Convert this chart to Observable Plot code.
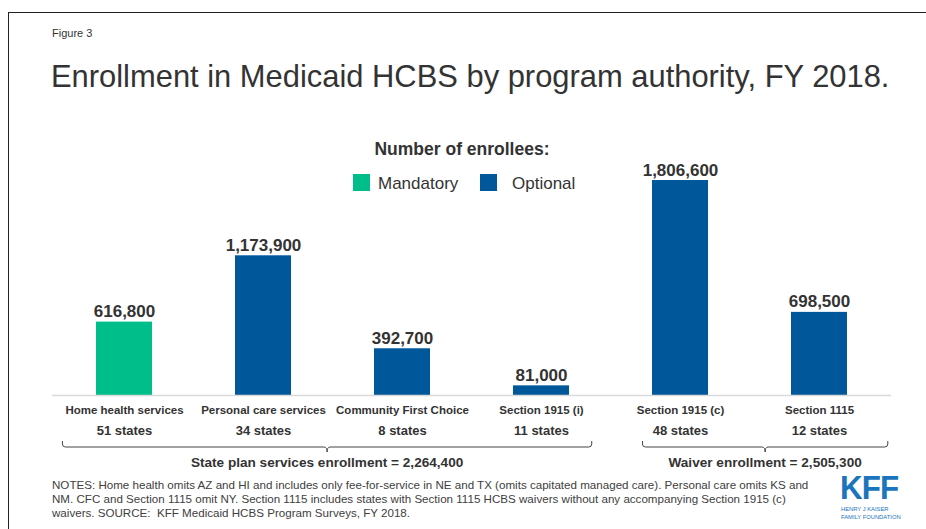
<!DOCTYPE html>
<html>
<head>
<meta charset="utf-8">
<script src="https://cdn.jsdelivr.net/npm/d3@7"></script>
<script src="https://cdn.jsdelivr.net/npm/@observablehq/plot@0.6"></script>
<style>
  html, body { margin: 0; padding: 0; background: #fff; }
  #root { position: relative; width: 926px; height: 529px; overflow: hidden; font-family: Arial, "Liberation Sans", sans-serif; color: #333; }
  .abs { position: absolute; white-space: nowrap; }
  #frame { position: absolute; left: 8px; top: 12px; width: 1000px; height: 600px; border-left: 1px solid #222; border-top: 1px solid #222; }
  #plot { position: absolute; left: 0; top: 130px; }
  #plot svg { overflow: visible; }
  .kff { color: #1b75bc; }
</style>
</head>
<body>
<div id="root">
  <div id="frame"></div>
  <div class="abs" style="left:52px;top:28px;font-size:11px;line-height:11px;color:#333;">Figure 3</div>
  <div class="abs" style="left:51px;top:62px;font-size:30.9px;line-height:30.9px;color:#333;">Enrollment in Medicaid HCBS by program authority, FY 2018.</div>
  <div id="plot"></div>
  <div id="legend"></div>
  <div class="abs" id="notes" style="left:52px;top:478px;font-size:11.6px;line-height:14px;color:#404040;"></div>
  <div class="abs kff" style="left:840px;top:475.6px;font-size:33px;line-height:24px;height:24px;font-weight:900;letter-spacing:-1px;transform:scaleX(0.95);transform-origin:0 0;">KFF</div>
  <div class="abs kff" style="left:841px;top:506.3px;font-size:5.8px;line-height:7.5px;">HENRY J KAISER<br>FAMILY FOUNDATION</div>
</div>
<script>
// ---- data ----
const categories = ["Home health services", "Personal care services", "Community First Choice", "Section 1915 (i)", "Section 1915 (c)", "Section 1115"];
const enrollees = [616800, 1173900, 392700, 81000, 1806600, 698500];
const authority = ["Mandatory", "Optional", "Optional", "Optional", "Optional", "Optional"];
const stateCounts = [51, 34, 8, 11, 48, 12];
const authorityTypes = ["Mandatory", "Optional"];
const groupNames = ["State plan services enrollment", "Waiver enrollment"];
const groupTotals = [2264400, 2505300];
const groupMembers = [
  ["Home health services", "Personal care services", "Community First Choice", "Section 1915 (i)"],
  ["Section 1915 (c)", "Section 1115"]
];
const legendTitle = "Number of enrollees:";
const notesLines = [
  "NOTES: Home health omits AZ and HI and includes only fee-for-service in NE and TX (omits capitated managed care). Personal care omits KS and",
  "NM. CFC and Section 1115 omit NY. Section 1115 includes states with Section 1115 HCBS waivers without any accompanying Section 1915 (c)",
  "waivers. SOURCE:&nbsp; KFF Medicaid HCBS Program Surveys, FY 2018."
];

// ---- styles / layout (not data) ----
const colors = ["#00be8a", "#00579a"];
const textColor = "#333";
// bracket extents, in band steps, relative to first / last member centers
const bracketLayout = [{left: -0.443, right: 0.365}, {left: -0.27, right: 0.495}];

const fmt = d3.format(",");
const table = categories.map((c, i) => ({category: c, value: enrollees[i], type: authority[i], states: stateCounts[i]}));

const plot = Plot.plot({
  width: 926,
  height: 345,
  marginLeft: 52,
  marginRight: 35,
  marginTop: 27,
  marginBottom: 80,
  style: {fontFamily: "Arial, 'Liberation Sans', sans-serif", color: textColor, background: "transparent"},
  x: {type: "band", domain: categories, paddingInner: 0.6, paddingOuter: 0.3, label: null},
  y: {domain: [0, 2000000], axis: null},
  color: {domain: authorityTypes, range: colors},
  marks: [
    Plot.barY(table, {x: "category", y: "value", fill: "type"}),
    Plot.ruleY([0], {stroke: "#d9d9d9", strokeWidth: 1.5}),
    Plot.text(table, {x: "category", y: "value", text: d => fmt(d.value), lineAnchor: "bottom", dy: -5, fontSize: 17, fontWeight: "bold", fill: textColor}),
    Plot.axisX({tickSize: 0, tickPadding: 10, fontSize: 11.5, fontWeight: "bold", fill: textColor, label: null}),
    Plot.text(table, {x: "category", text: d => `${d.states} states`, frameAnchor: "bottom", lineAnchor: "bottom", dy: 39, fontSize: 13, fontWeight: "bold", fill: textColor})
  ]
});
document.getElementById("plot").appendChild(plot);

// ---- brackets with group totals, positioned from the x scale ----
const xs = plot.scale("x");
const step = xs.step !== undefined ? xs.step : (xs.range[1] - xs.range[0]) / categories.length;
const bw = xs.bandwidth;
const cx = c => xs.apply(c) + bw / 2;
const yBase = 345 - 80; // frame bottom
const svg = d3.select(plot.tagName.toLowerCase() === "svg" ? plot : plot.querySelector("svg"));
const gB = svg.append("g");
groupMembers.forEach((members, i) => {
  const x0 = cx(members[0]) + bracketLayout[i].left * step;
  const x1 = cx(members[members.length - 1]) + bracketLayout[i].right * step;
  const xm = (x0 + x1) / 2;
  const yTop = yBase + 46, yH = yBase + 52, yTip = yBase + 57;
  const r = 3;
  gB.append("path")
    .attr("d", `M${x0},${yTop} L${x0},${yH - r} Q${x0},${yH} ${x0 + r},${yH} L${xm - r},${yH} Q${xm},${yH} ${xm},${yTip} Q${xm},${yH} ${xm + r},${yH} L${x1 - r},${yH} Q${x1},${yH} ${x1},${yH - r} L${x1},${yTop}`)
    .attr("fill", "none").attr("stroke", "#444").attr("stroke-width", 1);
  gB.append("text")
    .attr("x", xm).attr("y", yBase + 72)
    .attr("text-anchor", "middle")
    .attr("font-size", 13.6).attr("font-weight", "bold").attr("fill", textColor)
    .text(`${groupNames[i]} = ${fmt(groupTotals[i])}`);
});

// ---- legend ----
const legend = document.getElementById("legend");
legend.innerHTML =
  `<div class="abs" style="left:0;width:924px;text-align:center;top:141px;font-size:17.5px;line-height:17.5px;font-weight:bold;color:${textColor};">${legendTitle}</div>`;
const legendX = [{sq: 353, tx: 378}, {sq: 480, tx: 512}];
authorityTypes.forEach((t, i) => {
  legend.innerHTML += `<div class="abs" style="left:${legendX[i].sq}px;top:174px;width:17px;height:17px;background:${colors[i]};"></div>` +
    `<div class="abs" style="left:${legendX[i].tx}px;top:175px;font-size:17px;line-height:17px;color:${textColor};">${t}</div>`;
});

document.getElementById("notes").innerHTML = notesLines.join("<br>");
</script>
</body>
</html>
